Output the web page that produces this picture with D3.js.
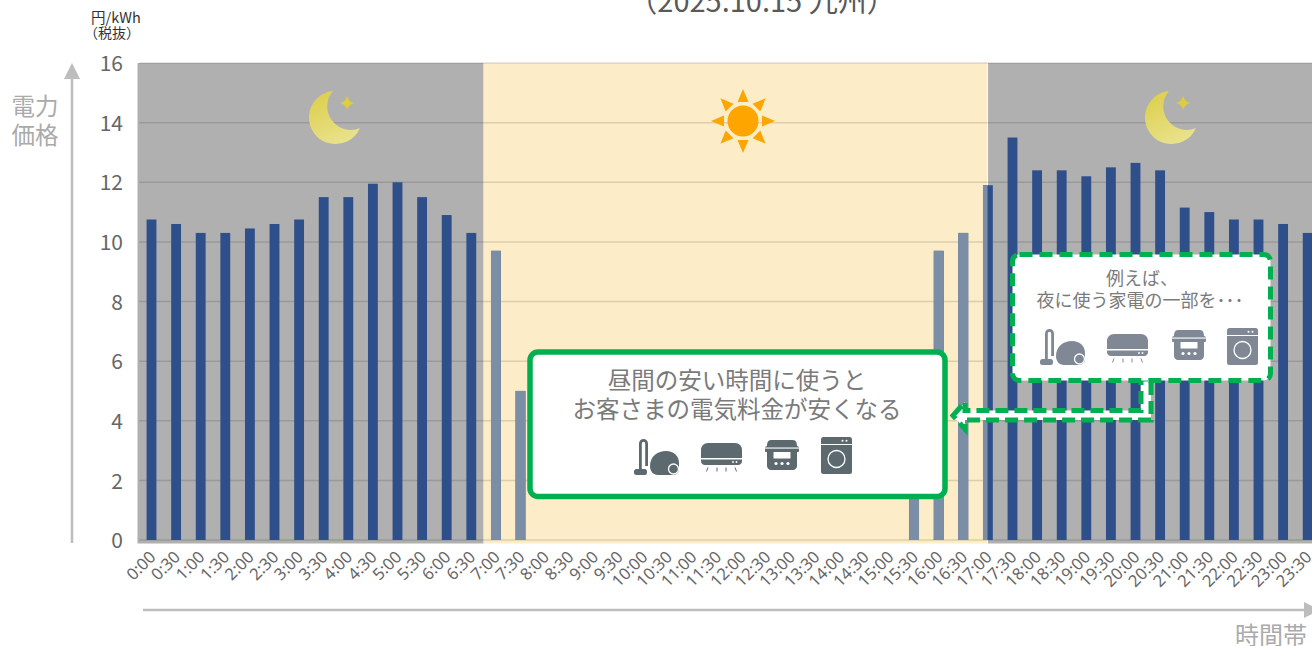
<!DOCTYPE html>
<html><head><meta charset="utf-8">
<script src="https://cdn.jsdelivr.net/npm/d3@7"></script>
<style>
html,body{margin:0;padding:0;background:#fff;overflow:hidden}
svg{display:block}
text{font-family:"Noto Sans CJK JP","Noto Sans",sans-serif}
</style></head><body>
<div id="chart"></div>
<script>
const timeLabels = ["0:00","0:30","1:00","1:30","2:00","2:30","3:00","3:30","4:00","4:30","5:00","5:30","6:00","6:30","7:00","7:30","8:00","8:30","9:00","9:30","10:00","10:30","11:00","11:30","12:00","12:30","13:00","13:30","14:00","14:30","15:00","15:30","16:00","16:30","17:00","17:30","18:00","18:30","19:00","19:30","20:00","20:30","21:00","21:30","22:00","22:30","23:00","23:30"];
const prices = [10.75,10.6,10.3,10.3,10.45,10.6,10.75,11.5,11.5,11.95,12.0,11.5,10.9,10.3,9.7,5.0,0,0,0,0,0,0,0,0,0,0,0,0,0,0,0,3.0,9.7,10.3,11.9,13.5,12.4,12.4,12.2,12.5,12.65,12.4,11.15,11.0,10.75,10.75,10.6,10.3];
const yTicks = [0,2,4,6,8,10,12,14,16];
const titleText = "（2025.10.15 九州）";
const unitLines = ["円/kWh","（税抜）"];
const yAxisTitle = ["電力","価格"];
const xAxisTitle = "時間帯";
const mainMessage = ["昼間の安い時間に使うと","お客さまの電気料金が安くなる"];
const subMessage = ["例えば、","夜に使う家電の一部を･･･"];

const W=1312,H=646;
const svg=d3.select("#chart").append("svg").attr("width",W).attr("height",H);
const defs=svg.append("defs");
const x=d3.scaleBand().domain(timeLabels).range([139.2,1320]).paddingInner(.6).paddingOuter(.3);
const y=d3.scaleLinear().domain([0,16]).range([540,63]);
const stepX=x.step();
const dayStart=x("7:00")-stepX*.3, dayEnd=x("17:00")+stepX*.3-2.8;
const plotL=137.5, bandBottom=543.5;

// backgrounds
svg.append("rect").attr("x",plotL).attr("y",63).attr("width",dayStart-plotL).attr("height",bandBottom-63).attr("fill","#b0b0b0");
svg.append("rect").attr("x",dayEnd).attr("y",63).attr("width",W-dayEnd).attr("height",bandBottom-63).attr("fill","#b0b0b0");
svg.append("rect").attr("x",dayStart).attr("y",63).attr("width",dayEnd-dayStart).attr("height",bandBottom-63).attr("fill","#fcedc8");
svg.append("line").attr("x1",dayEnd).attr("x2",dayEnd).attr("y1",63).attr("y2",bandBottom).attr("stroke","#fff").attr("stroke-width",1);

// grid
svg.append("g").selectAll("line").data(yTicks).join("line")
 .attr("x1",139.2).attr("x2",W).attr("y1",d=>y(d)).attr("y2",d=>y(d))
 .attr("stroke","#000").attr("stroke-opacity",.13).attr("stroke-width",1.5);

// bars, clipped into day / night tones
defs.append("clipPath").attr("id","dayClip").append("rect").attr("x",dayStart).attr("y",0).attr("width",dayEnd-dayStart).attr("height",H);
const drawBars=(g,fill)=>g.selectAll("rect").data(timeLabels.map((t,i)=>({t,v:prices[i]})).filter(d=>d.v>0)).join("rect")
 .attr("x",d=>x(d.t)).attr("width",x.bandwidth()).attr("y",d=>y(d.v)).attr("height",d=>y(0)-y(d.v)).attr("fill",fill);
drawBars(svg.append("g"),"#2e4f8a");
drawBars(svg.append("g").attr("clip-path","url(#dayClip)"),"#7b8ea5");

// axes
const yAxis=svg.append("g").attr("transform","translate(123,1)").call(d3.axisLeft(y).tickValues(yTicks).tickSize(0).tickPadding(0));
yAxis.select(".domain").remove();
yAxis.selectAll("text").attr("font-size",21).attr("fill","#666").style("font-family",'"Noto Sans CJK JP"');
const xAxis=svg.append("g").attr("transform","translate(0,552)").call(d3.axisBottom(x).tickSize(0).tickPadding(0));
xAxis.select(".domain").remove();
xAxis.selectAll("text").attr("font-size",16.5).attr("fill","#666").style("font-family",'"Noto Sans"').attr("text-anchor","end").attr("y",0).attr("dy","0.35em").attr("transform","translate(1,2) rotate(-45)");

// axis arrows
const arrowC="#bdbdbd";
svg.append("line").attr("x1",72).attr("x2",72).attr("y1",543).attr("y2",75).attr("stroke",arrowC).attr("stroke-width",2.5);
svg.append("path").attr("d","M72 63 L80 79 L64 79 Z").attr("fill",arrowC);
svg.append("line").attr("x1",143).attr("x2",1306).attr("y1",610).attr("y2",610).attr("stroke",arrowC).attr("stroke-width",2.5);
svg.append("path").attr("d","M1304 602 L1320 610 L1304 618 Z").attr("fill",arrowC);

// titles
svg.append("text").attr("x",762).attr("y",12).attr("text-anchor","middle").attr("font-size",29).attr("fill","#595959").text(titleText);
svg.selectAll(".unit").data(unitLines).join("text").attr("class","unit").attr("x",(d,i)=>i?84:91).attr("y",(d,i)=>22.5+i*15.5).attr("font-size",(d,i)=>i?14:14.5).attr("fill","#333").text(d=>d);
svg.selectAll(".yt").data(yAxisTitle).join("text").attr("class","yt").attr("x",35).attr("y",(d,i)=>115+i*29).attr("text-anchor","middle").attr("font-size",23.5).attr("fill","#aaa").text(d=>d);
svg.append("text").attr("x",1271).attr("y",644).attr("text-anchor","middle").attr("font-size",24).attr("fill","#aaa").text(xAxisTitle);

// moon
const grad=defs.append("linearGradient").attr("id","moonG").attr("x1","0.15").attr("y1","0").attr("x2","0.6").attr("y2","1");
grad.append("stop").attr("offset","0").attr("stop-color","#dcce4a");
grad.append("stop").attr("offset","1").attr("stop-color","#e9e28c");
function moon(dx){
 const g=svg.append("g").attr("transform",`translate(${dx},0)`);
 g.append("path").attr("fill","url(#moonG)").attr("d","M333 91 A26.6 26.6 0 1 0 360 128 A23.5 23.5 0 0 1 333 91 Z");
 g.append("path").attr("fill","#e0cd3c").attr("d","M347 95.5 Q348 102 355 103 Q348 104 347 110.5 Q346 104 339.5 103 Q346 102 347 95.5 Z");
}
moon(0);moon(836);

// sun
const sun=svg.append("g").attr("transform","translate(743,121)");
sun.append("circle").attr("r",15.5).attr("fill","#ffa500");
sun.selectAll("path").data(d3.range(8)).join("path").attr("d","M-5.5 -19 L0 -32 L5.5 -19 Z").attr("fill","#ffa500").attr("transform",d=>`rotate(${d*45})`);

// panels
const green="#00b050";
svg.append("path").attr("d","M953 415.5 L965 402 L965 410.5 L1141 410.5 L1141 379 L1151 379 L1151 420 L965 420 L965 429 Z")
 .attr("fill","#fff").attr("stroke",green).attr("stroke-width",5).attr("stroke-dasharray","13 6");
svg.append("rect").attr("x",530).attr("y",352).attr("width",415).attr("height",144.5).attr("rx",8).attr("fill","#fff").attr("stroke",green).attr("stroke-width",5.5);
svg.append("rect").attr("x",1012.5).attr("y",254.5).attr("width",258).attr("height",126).attr("rx",7).attr("fill","#fff").attr("stroke",green).attr("stroke-width",5).attr("stroke-dasharray","13 7");
svg.selectAll(".m").data(mainMessage).join("text").attr("class","m").attr("x",737).attr("y",(d,i)=>389+i*29).attr("text-anchor","middle").attr("font-size",23.5).attr("fill","#7a7a7a").text(d=>d);
svg.selectAll(".s").data(subMessage).join("text").attr("class","s").attr("x",(d,i)=>i?1140:1142).attr("y",(d,i)=>285+i*22).attr("text-anchor","middle").attr("font-size",18).attr("fill","#7a7a7a").text(d=>d);

// appliance icons
function vacuum(g,c){
 g.append("path").attr("fill","none").attr("stroke",c).attr("stroke-width",2.8).attr("d","M6.4 31 V4.5 A3.1 3.1 0 0 1 12.6 4.5 V27");
 g.append("rect").attr("x",0).attr("y",30).attr("width",13).attr("height",6).attr("rx",2.5).attr("fill",c);
 g.append("path").attr("fill",c).attr("d","M16 27 C16 17 24 12 32 12 C40 12 45 17 45 24 L45 30 C45 34 42 36 38 36 L24 36 C19 36 16 32 16 27 Z");
 g.append("circle").attr("cx",39.5).attr("cy",30).attr("r",5).attr("fill",c).attr("stroke","#fff").attr("stroke-width",1.3);
}
function aircon(g,c){
 g.append("path").attr("fill",c).attr("d","M7 0 H34 C38 0 41 3 41 7 V15 H0 V7 C0 3 3 0 7 0 Z");
 g.append("path").attr("fill",c).attr("d","M0 16.5 H41 V18 C41 20.5 39 22 37 22 H4 C2 22 0 20.5 0 18 Z");
 [[7,24.5,5.5,28.5],[16,24.5,16,28.5],[25,24.5,25,28.5],[34,24.5,35.5,28.5]].forEach(a=>g.append("line").attr("x1",a[0]).attr("y1",a[1]).attr("x2",a[2]).attr("y2",a[3]).attr("stroke",c).attr("stroke-width",1));
 [32,35.5].forEach(v=>g.append("circle").attr("cx",v).attr("cy",19).attr("r",.9).attr("fill","#fff"));
}
function cooker(g,c){
 g.append("path").attr("fill",c).attr("d","M6 0 H28 C31 0 32 3 32 6 C33.5 6 34 7 34 8 V11 C34 12 33 12 32 12 V26 C32 28 30 30 28 30 H6 C4 30 2 28 2 26 V12 C1 12 0 12 0 11 V8 C0 7 .5 6 2 6 C2 3 3 0 6 0 Z");
 g.append("rect").attr("x",0).attr("y",7.5).attr("width",34).attr("height",1.1).attr("fill","#fff");
 g.append("rect").attr("x",8.5).attr("y",12).attr("width",17).attr("height",6.5).attr("rx",.5).attr("fill","#fff");
 [11,17,23].forEach(v=>g.append("circle").attr("cx",v).attr("cy",23.5).attr("r",1.6).attr("fill","#fff"));
}
function washer(g,c){
 g.append("rect").attr("x",0).attr("y",0).attr("width",31).attr("height",37).attr("rx",2.5).attr("fill",c);
 g.append("rect").attr("x",0).attr("y",7).attr("width",31).attr("height",1).attr("fill","#fff");
 [21.5,25.5].forEach(v=>g.append("circle").attr("cx",v).attr("cy",3.7).attr("r",1).attr("fill","#fff"));
 g.append("circle").attr("cx",15.5).attr("cy",22).attr("r",8.5).attr("fill","none").attr("stroke","#fff").attr("stroke-width",1.3);
}
function iconRow(pos,c){
 [vacuum,aircon,cooker,washer].forEach((f,i)=>f(svg.append("g").attr("transform",`translate(${pos[i][0]},${pos[i][1]})`),c));
}
iconRow([[634,439],[701,443],[765,440],[821,437]],"#5c6a70");
iconRow([[1040,329],[1107,334],[1172,330],[1227,328]],"#7f8894");
</script>
</body></html>
